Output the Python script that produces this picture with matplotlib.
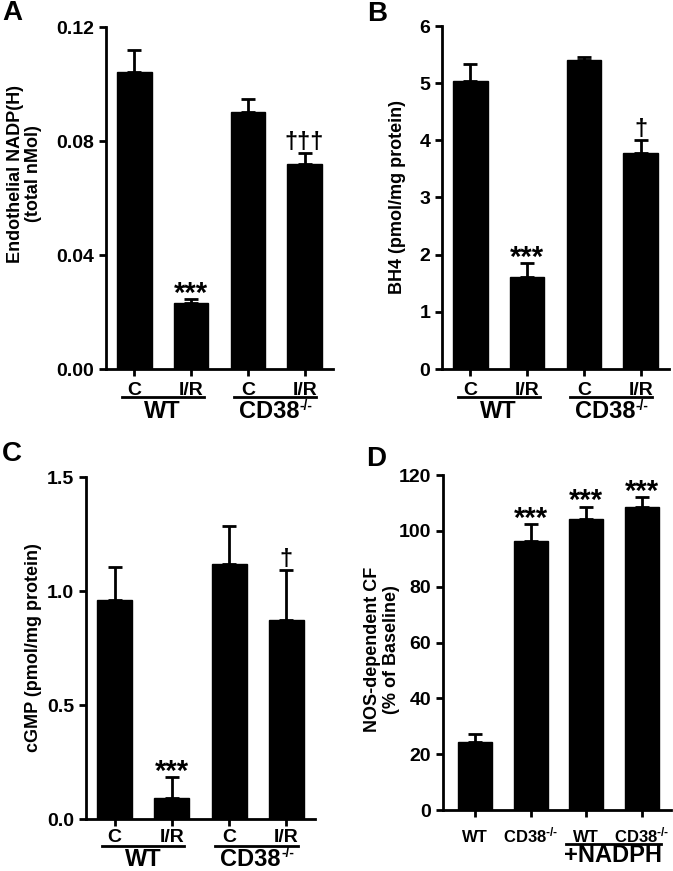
import matplotlib
matplotlib.use("Agg")
import matplotlib.pyplot as plt
import matplotlib.transforms as mtransforms

plt.rcParams['font.family'] = ['Liberation Sans', 'DejaVu Sans']
plt.rcParams['font.weight'] = 'bold'
plt.rcParams['mathtext.fontset'] = 'custom'
plt.rcParams['mathtext.rm'] = 'Liberation Sans:bold'
plt.rcParams['mathtext.bf'] = 'Liberation Sans:bold'
plt.rcParams['mathtext.default'] = 'rm'

# ---------------- data ----------------
cond_labels = ["C", "I/R", "C", "I/R"]
group_labels = ["WT", "CD38"]
group_sups = ["", "-/-"]

nadph_mean = [0.1042, 0.0233, 0.0902, 0.0721]
nadph_err = [0.0078, 0.0012, 0.0047, 0.0037]
nadph_marks = ["", "***", "", "†††"]

bh4_mean = [5.03, 1.615, 5.41, 3.77]
bh4_err = [0.31, 0.235, 0.04, 0.24]
bh4_marks = ["", "***", "", "†"]

cgmp_mean = [0.962, 0.092, 1.117, 0.873]
cgmp_err = [0.143, 0.092, 0.17, 0.218]
cgmp_marks = ["", "***", "", "†"]

cf_labels = ["WT", r"CD38$^{\text{-/-}}$", "WT", r"CD38$^{\text{-/-}}$"]
cf_mean = [24.2, 96.2, 104.1, 108.5]
cf_err = [3.0, 6.1, 4.6, 3.7]
cf_marks = ["", "***", "***", "***"]
cf_group = ["+NADPH"]

W, H = 673, 871
fig = plt.figure(figsize=(W / 100, H / 100), dpi=100)


def axrect(l, r, t, b):
    return [l / W, 1 - b / H, (r - l) / W, (b - t) / H]


def style_axis(ax):
    for s in ["top", "right"]:
        ax.spines[s].set_visible(False)
    for s in ["left", "bottom"]:
        ax.spines[s].set_linewidth(2)
    ax.tick_params(axis="both", direction="out", width=2, length=5,
                   labelsize=14)
    for lab in ax.get_yticklabels():
        lab.set_fontweight("bold")


def bars(ax, mean, err, marks):
    x = list(range(len(mean)))
    ax.bar(x, mean, width=0.61, color="black", edgecolor="black", zorder=2)
    ax.errorbar(x, mean, yerr=[[0] * len(err), err], fmt="none",
                ecolor="black", elinewidth=2, capsize=5, capthick=2,
                zorder=3)
    for xi, m, e, mk in zip(x, mean, err, marks):
        if not mk:
            continue
        if mk.startswith("*"):
            ax.annotate(mk, (xi, m + e), xytext=(0, -2),
                        textcoords="offset points", ha="center",
                        va="baseline", fontsize=21, fontweight="bold")
        else:
            ax.annotate(mk, (xi, m + e), xytext=(0, 3),
                        textcoords="offset points", ha="center",
                        va="baseline", fontsize=17, fontweight="bold")
    ax.set_xticks(x)
    ax.set_xlim(-0.5, 3.5)


def groups(ax, yline, ybase, spans, labels, sups, size):
    tr = mtransforms.blended_transform_factory(ax.transData, ax.transAxes)
    for (a, b), lab, sup in zip(spans, labels, sups):
        ax.plot([a, b], [yline, yline], color="black", lw=2,
                transform=tr, clip_on=False)
        shift = -4.5 if sup else 0
        t = ax.annotate(lab, ((a + b) / 2, ybase), xycoords=tr,
                        xytext=(shift, 0), textcoords="offset points",
                        ha="center", va="baseline", fontsize=size,
                        fontweight="bold", annotation_clip=False)
        if sup:
            ax.annotate(sup, (1, 1), xycoords=t, xytext=(0.5, 1),
                        textcoords="offset points", ha="left", va="top",
                        fontsize=size * 0.58, fontweight="bold",
                        annotation_clip=False)


# ---------------- Panel A ----------------
axA = fig.add_axes(axrect(106, 333, 27, 369))
bars(axA, nadph_mean, nadph_err, nadph_marks)
axA.set_ylim(0, 0.12)
axA.set_yticks([0, 0.04, 0.08, 0.12])
axA.set_yticklabels(["0.00", "0.04", "0.08", "0.12"])
axA.set_xticklabels(cond_labels, fontweight="bold")
style_axis(axA)
axA.tick_params(axis="x", pad=4)
axA.set_ylabel("Endothelial NADP(H)\n(total nMol)", fontsize=13,
               fontweight="bold", linespacing=1.1)
axA.yaxis.set_label_coords(-0.28, 0.57)
groups(axA, -0.082, -0.143, [(-0.22, 1.22), (1.76, 3.2)],
       group_labels, group_sups, 17)

# ---------------- Panel B ----------------
axB = fig.add_axes(axrect(442, 669, 26, 369))
bars(axB, bh4_mean, bh4_err, bh4_marks)
axB.set_ylim(0, 6)
axB.set_yticks([0, 1, 2, 3, 4, 5, 6])
axB.set_xticklabels(cond_labels, fontweight="bold")
style_axis(axB)
axB.tick_params(axis="x", pad=4)
axB.set_ylabel("BH4 (pmol/mg protein)", fontsize=13, fontweight="bold")
axB.yaxis.set_label_coords(-0.16, 0.5)
groups(axB, -0.082, -0.143, [(-0.22, 1.22), (1.76, 3.2)],
       group_labels, group_sups, 17)

# ---------------- Panel C ----------------
axC = fig.add_axes(axrect(86, 315, 477, 819))
bars(axC, cgmp_mean, cgmp_err, cgmp_marks)
axC.set_ylim(0, 1.5)
axC.set_yticks([0, 0.5, 1.0, 1.5])
axC.set_yticklabels(["0.0", "0.5", "1.0", "1.5"])
axC.set_xticklabels(cond_labels, fontweight="bold")
style_axis(axC)
axC.tick_params(axis="x", pad=2.5)
axC.set_ylabel("cGMP (pmol/mg protein)", fontsize=13, fontweight="bold")
axC.yaxis.set_label_coords(-0.19, 0.5)
groups(axC, -0.079, -0.136, [(-0.22, 1.22), (1.76, 3.2)],
       group_labels, group_sups, 17)

# ---------------- Panel D ----------------
axD = fig.add_axes(axrect(443, 671, 475, 810))
bars(axD, cf_mean, cf_err, cf_marks)
axD.set_ylim(0, 120)
axD.set_yticks([0, 20, 40, 60, 80, 100, 120])
axD.set_xlim(-0.57, 3.52)
axD.set_xticklabels(cf_labels, fontweight="bold")
style_axis(axD)
axD.tick_params(axis="x", pad=18, labelsize=12)
for lab in axD.get_xticklabels():
    lab.set_verticalalignment("baseline")
axD.set_ylabel("NOS-dependent CF\n(% of Baseline)", fontsize=13,
               fontweight="bold", linespacing=1.1)
axD.yaxis.set_label_coords(-0.19, 0.48)
groups(axD, -0.10, -0.155, [(1.63, 3.34)], cf_group, [""], 17)

# ---------------- panel letters ----------------
for lab, px, py in [("A", 2, 0), ("B", 367, 1), ("C", 2, 441), ("D", 366, 446)]:
    fig.text(px / W, 1 - py / H, lab, fontsize=20, fontweight="bold",
             ha="left", va="top")

fig.savefig("out.png", dpi=100)
